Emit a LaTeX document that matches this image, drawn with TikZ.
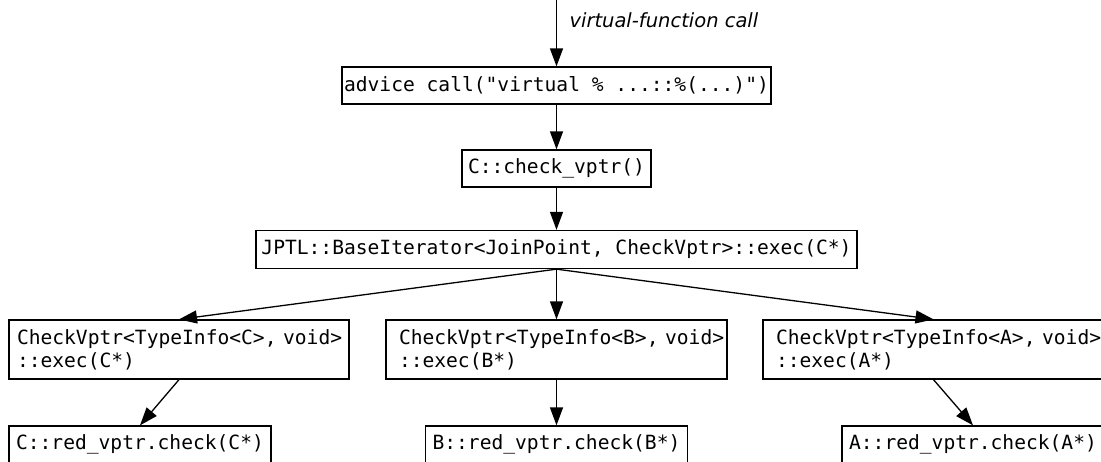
\documentclass[tikz,border=0pt]{standalone}
\usepackage{fontspec}
\setmonofont{DejaVu Sans Mono}
\newfontfamily\labfont{DejaVu Sans}
\usetikzlibrary{arrows.meta}
\tikzset{
  fn/.style={draw, line width=1.3pt, inner sep=0pt, align=left,
    font=\ttfamily\fontsize{19.6}{23}\selectfont, minimum height=37pt},
  fn2/.style={fn, minimum height=59pt},
  call/.style={line width=1.3pt, -{Triangle[length=18pt,width=13pt]}}
}
\begin{document}
\begin{tikzpicture}[x=1pt,y=-1pt]
\useasboundingbox (0,0) rectangle (1101,461);
\clip (0,0) rectangle (1101,461);
\coordinate (top) at (556.5,0);
\node[anchor=base west, font=\labfont\itshape\fontsize{19.5}{23}\selectfont] (lab) at (566,27) {virtual-function call};
\node[fn, minimum width=429pt] (advice) at (556.5,85.5) {advice call("virtual \% ...::\%(...)")};
\node[fn, minimum width=189pt] (check) at (556.5,168.5) {C::check\_vptr()};
\node[fn, minimum width=601pt, minimum height=38pt] (iter) at (556.5,249.5) {JPTL::BaseIterator<JoinPoint, CheckVptr>::exec(C*)};
\node[fn2, inner xsep=8pt, text width=324pt] (cvc) at (179,349.5) {\mbox{CheckVptr<TypeInfo<C>, void>}\\::exec(C*)};
\node[fn2, inner xsep=13pt, text width=315pt] (cvb) at (556.5,349.5) {\mbox{CheckVptr<TypeInfo<B>, void>}\\::exec(B*)};
\node[fn2, inner xsep=13pt, text width=315pt] (cva) at (933.5,349.5) {\mbox{CheckVptr<TypeInfo<A>, void>}\\::exec(A*)};
\node[fn, minimum width=262pt] (rc) at (140,444.5) {C::red\_vptr.check(C*)};
\node[fn, minimum width=262pt] (rb) at (556.5,444.5) {B::red\_vptr.check(B*)};
\node[fn, minimum width=262pt] (ra) at (973,444.5) {A::red\_vptr.check(A*)};
\draw[call] (top) -- (advice.north);
\draw[call] (advice.south) -- (check.north);
\draw[call] (check.south) -- (iter.north);
\draw[call] (iter.south) -- (cvc.north);
\draw[call] (iter.south) -- (cvb.north);
\draw[call] (iter.south) -- (cva.north);
\draw[call] (cvc.south) -- (rc.north);
\draw[call] (cvb.south) -- (rb.north);
\draw[call] (cva.south) -- (ra.north);
\end{tikzpicture}
\end{document}
